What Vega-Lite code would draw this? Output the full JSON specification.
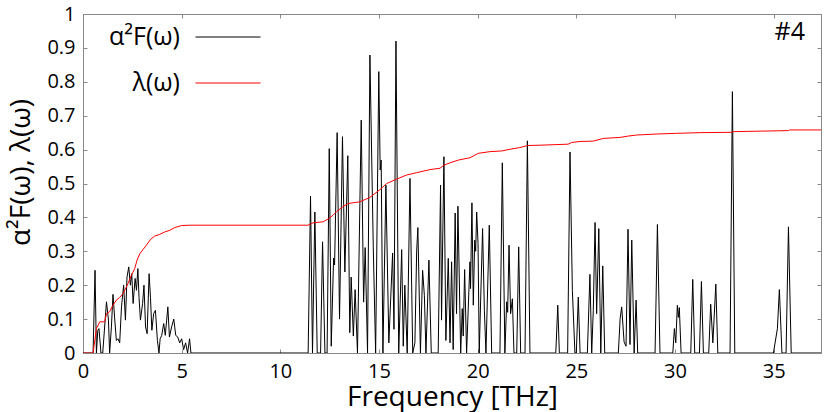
{
 "$schema": "https://vega.github.io/schema/vega-lite/v6.json",
 "width": 738,
 "height": 339,
 "autosize": {"type": "none"},
 "padding": {"left": 83, "top": 14, "right": 9, "bottom": 59},
 "background": "white",
 "config": {
  "view": {"stroke": "#888", "strokeWidth": 1},
  "font": "Open Sans",
  "axis": {"grid": false, "tickSize": -4, "tickColor": "#888", "domainColor": "#888", "labelFont": "Open Sans", "titleFont": "Open Sans", "labelColor": "#000", "titleColor": "#000", "labelFlush": false, "labelOverlap": false, "titleFontWeight": "normal"}
 },
 "datasets": {
  "a2f": [
   {"freq":0,"value":0},{"freq":0.51,"value":0},{"freq":0.61,"value":0.244},{"freq":0.68,"value":0},{"freq":0.75,"value":0.067},{"freq":0.81,"value":0.072},{"freq":0.91,"value":0},{"freq":1.0,"value":0},{"freq":1.19,"value":0.151},{"freq":1.29,"value":0.097},{"freq":1.35,"value":0},{"freq":1.44,"value":0.077},{"freq":1.52,"value":0.173},{"freq":1.6,"value":0.106},{"freq":1.69,"value":0.037},{"freq":1.77,"value":0.042},{"freq":1.86,"value":0.03},{"freq":1.95,"value":0.136},{"freq":2.06,"value":0.2},{"freq":2.15,"value":0.097},{"freq":2.23,"value":0.224},{"freq":2.32,"value":0.254},{"freq":2.4,"value":0.2},{"freq":2.47,"value":0.234},{"freq":2.54,"value":0.146},{"freq":2.64,"value":0.22},{"freq":2.71,"value":0.185},{"freq":2.78,"value":0.249},{"freq":2.84,"value":0.163},{"freq":2.91,"value":0.097},{"freq":3.02,"value":0.146},{"freq":3.09,"value":0.2},{"freq":3.17,"value":0.077},{"freq":3.25,"value":0.057},{"freq":3.35,"value":0.234},{"freq":3.42,"value":0.163},{"freq":3.49,"value":0.067},{"freq":3.58,"value":0.116},{"freq":3.67,"value":0.126},{"freq":3.77,"value":0.037},{"freq":3.85,"value":0},{"freq":3.91,"value":0.042},{"freq":3.99,"value":0.052},{"freq":4.09,"value":0.087},{"freq":4.17,"value":0.052},{"freq":4.24,"value":0.097},{"freq":4.3,"value":0.136},{"freq":4.38,"value":0.047},{"freq":4.49,"value":0.077},{"freq":4.6,"value":0.1},{"freq":4.7,"value":0.052},{"freq":4.8,"value":0.047},{"freq":4.9,"value":0.03},{"freq":5.0,"value":0.042},{"freq":5.1,"value":0.01},{"freq":5.2,"value":0.03},{"freq":5.3,"value":0},{"freq":5.4,"value":0.042},{"freq":5.47,"value":0},
   {"freq":11.41,"value":0},{"freq":11.53,"value":0.463},{"freq":11.63,"value":0},{"freq":11.75,"value":0.416},{"freq":11.87,"value":0},{"freq":12.04,"value":0},{"freq":12.14,"value":0.328},{"freq":12.26,"value":0},{"freq":12.37,"value":0},{"freq":12.48,"value":0.603},{"freq":12.58,"value":0.02},{"freq":12.7,"value":0.28},{"freq":12.75,"value":0.26},{"freq":12.88,"value":0.65},{"freq":13.0,"value":0.1},{"freq":13.15,"value":0.638},{"freq":13.27,"value":0.239},{"freq":13.42,"value":0.582},{"freq":13.52,"value":0.06},{"freq":13.59,"value":0.224},{"freq":13.7,"value":0.05},{"freq":13.79,"value":0.187},{"freq":13.91,"value":0},{"freq":14.1,"value":0.687},{"freq":14.22,"value":0.15},{"freq":14.3,"value":0.311},{"freq":14.42,"value":0},{"freq":14.54,"value":0.879},{"freq":14.71,"value":0.313},{"freq":14.83,"value":0},{"freq":14.99,"value":0.83},{"freq":15.06,"value":0.54},{"freq":15.11,"value":0.569},{"freq":15.2,"value":0},{"freq":15.35,"value":0.495},{"freq":15.5,"value":0.03},{"freq":15.69,"value":0.295},{"freq":15.76,"value":0.07},{"freq":15.86,"value":0.92},{"freq":16.0,"value":0},{"freq":16.15,"value":0.305},{"freq":16.23,"value":0.02},{"freq":16.31,"value":0.2},{"freq":16.43,"value":0},{"freq":16.57,"value":0.515},{"freq":16.71,"value":0},{"freq":16.82,"value":0.03},{"freq":16.91,"value":0.301},{"freq":16.97,"value":0.37},{"freq":17.1,"value":0},{"freq":17.21,"value":0.244},{"freq":17.3,"value":0.17},{"freq":17.38,"value":0},{"freq":17.53,"value":0.274},{"freq":17.65,"value":0},{"freq":18.0,"value":0},{"freq":18.12,"value":0.495},{"freq":18.17,"value":0.097},{"freq":18.29,"value":0.579},{"freq":18.39,"value":0.037},{"freq":18.51,"value":0.279},{"freq":18.6,"value":0.03},{"freq":18.68,"value":0.269},{"freq":18.76,"value":0.01},{"freq":18.86,"value":0.413},{"freq":18.93,"value":0.116},{"freq":19.0,"value":0.433},{"freq":19.14,"value":0},{"freq":19.22,"value":0.131},{"freq":19.27,"value":0.05},{"freq":19.34,"value":0.246},{"freq":19.44,"value":0},{"freq":19.61,"value":0.269},{"freq":19.64,"value":0.19},{"freq":19.71,"value":0.443},{"freq":19.78,"value":0.141},{"freq":19.85,"value":0.333},{"freq":19.9,"value":0.3},{"freq":19.95,"value":0.416},{"freq":20.02,"value":0.323},{"freq":20.08,"value":0},{"freq":20.25,"value":0.367},{"freq":20.34,"value":0.126},{"freq":20.42,"value":0},{"freq":20.59,"value":0.377},{"freq":20.71,"value":0},{"freq":21.13,"value":0},{"freq":21.25,"value":0.561},{"freq":21.38,"value":0},{"freq":21.47,"value":0.151},{"freq":21.52,"value":0.12},{"freq":21.59,"value":0.318},{"freq":21.67,"value":0.116},{"freq":21.76,"value":0.16},{"freq":21.84,"value":0},{"freq":21.98,"value":0},{"freq":22.08,"value":0.313},{"freq":22.18,"value":0},{"freq":22.4,"value":0},{"freq":22.52,"value":0.626},{"freq":22.65,"value":0},{"freq":23.96,"value":0},{"freq":24.06,"value":0.141},{"freq":24.14,"value":0},{"freq":24.56,"value":0},{"freq":24.68,"value":0.593},{"freq":24.8,"value":0.185},{"freq":24.93,"value":0},{"freq":25.0,"value":0},{"freq":25.1,"value":0.165},{"freq":25.19,"value":0},{"freq":25.56,"value":0},{"freq":25.69,"value":0.232},{"freq":25.78,"value":0},{"freq":25.86,"value":0.126},{"freq":25.95,"value":0.385},{"freq":26.03,"value":0.116},{"freq":26.14,"value":0.367},{"freq":26.24,"value":0},{"freq":26.34,"value":0.257},{"freq":26.44,"value":0},{"freq":27.13,"value":0},{"freq":27.22,"value":0.101},{"freq":27.3,"value":0.136},{"freq":27.42,"value":0.033},{"freq":27.52,"value":0.02},{"freq":27.62,"value":0.365},{"freq":27.72,"value":0.025},{"freq":27.81,"value":0.333},{"freq":27.93,"value":0},{"freq":28.03,"value":0.156},{"freq":28.11,"value":0},{"freq":28.99,"value":0},{"freq":29.11,"value":0.379},{"freq":29.24,"value":0},{"freq":29.89,"value":0},{"freq":29.97,"value":0.072},{"freq":30.04,"value":0.03},{"freq":30.12,"value":0.141},{"freq":30.17,"value":0.105},{"freq":30.22,"value":0.134},{"freq":30.31,"value":0},{"freq":30.8,"value":0},{"freq":30.9,"value":0.217},{"freq":31.0,"value":0},{"freq":31.24,"value":0},{"freq":31.34,"value":0.211},{"freq":31.44,"value":0},{"freq":31.71,"value":0},{"freq":31.81,"value":0.144},{"freq":31.92,"value":0.03},{"freq":32.07,"value":0.203},{"freq":32.17,"value":0},{"freq":32.79,"value":0},{"freq":32.91,"value":0.771},{"freq":33.03,"value":0},{"freq":34.99,"value":0},{"freq":35.19,"value":0.072},{"freq":35.29,"value":0.187},{"freq":35.42,"value":0},{"freq":35.63,"value":0},{"freq":35.75,"value":0.372},{"freq":35.89,"value":0},{"freq":37.4,"value":0}
  ],
  "lam": [
   {"freq":0,"value":0},{"freq":0.51,"value":0},{"freq":0.68,"value":0.072},{"freq":0.85,"value":0.092},{"freq":1.1,"value":0.092},{"freq":1.19,"value":0.116},{"freq":1.35,"value":0.122},{"freq":1.52,"value":0.141},{"freq":1.69,"value":0.156},{"freq":1.86,"value":0.164},{"freq":2.03,"value":0.175},{"freq":2.2,"value":0.195},{"freq":2.28,"value":0.205},{"freq":2.45,"value":0.229},{"freq":2.62,"value":0.249},{"freq":2.74,"value":0.274},{"freq":2.88,"value":0.293},{"freq":3.04,"value":0.305},{"freq":3.25,"value":0.321},{"freq":3.42,"value":0.335},{"freq":3.64,"value":0.345},{"freq":3.89,"value":0.35},{"freq":4.14,"value":0.357},{"freq":4.4,"value":0.362},{"freq":4.65,"value":0.37},{"freq":4.99,"value":0.376},{"freq":5.41,"value":0.377},{"freq":11.4,"value":0.377},{"freq":11.53,"value":0.38},{"freq":11.66,"value":0.384},{"freq":12.17,"value":0.387},{"freq":12.47,"value":0.397},{"freq":12.68,"value":0.407},{"freq":12.85,"value":0.417},{"freq":13.18,"value":0.432},{"freq":13.44,"value":0.441},{"freq":14.03,"value":0.446},{"freq":14.54,"value":0.459},{"freq":15.05,"value":0.482},{"freq":15.39,"value":0.5},{"freq":15.86,"value":0.512},{"freq":16.4,"value":0.525},{"freq":16.91,"value":0.532},{"freq":17.58,"value":0.541},{"freq":18.09,"value":0.545},{"freq":18.29,"value":0.554},{"freq":18.6,"value":0.561},{"freq":19.02,"value":0.569},{"freq":19.61,"value":0.576},{"freq":20.03,"value":0.589},{"freq":20.62,"value":0.594},{"freq":21.22,"value":0.596},{"freq":21.64,"value":0.601},{"freq":22.14,"value":0.606},{"freq":22.52,"value":0.612},{"freq":23.16,"value":0.613},{"freq":24.59,"value":0.616},{"freq":24.77,"value":0.621},{"freq":25.19,"value":0.624},{"freq":25.86,"value":0.625},{"freq":26.37,"value":0.633},{"freq":27.22,"value":0.636},{"freq":27.64,"value":0.64},{"freq":28.06,"value":0.643},{"freq":29.08,"value":0.646},{"freq":30.09,"value":0.648},{"freq":31.27,"value":0.65},{"freq":32.88,"value":0.651},{"freq":33.0,"value":0.653},{"freq":35.75,"value":0.656},{"freq":35.8,"value":0.658},{"freq":37.4,"value":0.658}
  ],
  "tag": [{"freq": 37.4, "value": 1, "label": "#4"}]
 },
 "layer": [
  {
   "data": {"name": "a2f"},
   "transform": [{"calculate": "'α²F(ω)'", "as": "series"}],
   "mark": {"type": "line", "strokeWidth": 1, "clip": true},
   "encoding": {
    "x": {"field": "freq", "type": "quantitative", "scale": {"domain": [0, 37.4], "nice": false, "zero": false},
          "axis": {"orient": "bottom", "values": [0,5,10,15,20,25,30,35], "title": "Frequency [THz]", "labelFontSize": 20, "labelPadding": 12, "titleFontSize": 28, "titlePadding": 2}},
    "y": {"field": "value", "type": "quantitative", "scale": {"domain": [0, 1], "nice": false},
          "axis": {"orient": "left", "values": [0,0.1,0.2,0.3,0.4,0.5,0.6,0.7,0.8,0.9,1], "format": "~g", "title": "α²F(ω), λ(ω)", "labelFontSize": 20, "labelPadding": 12, "titleFontSize": 28, "titlePadding": 11, "titleY": 158}},
    "color": {"field": "series", "type": "nominal", "scale": {"domain": ["α²F(ω)", "λ(ω)"], "range": ["#000000", "#ff0000"]},
              "legend": {"title": null, "orient": "none", "legendX": 112, "legendY": -10, "symbolType": "stroke", "symbolSize": 4225, "symbolStrokeWidth": 1, "labelAlign": "right", "labelOffset": -81, "labelFontSize": 25, "labelFont": "Open Sans", "labelColor": "#000", "rowPadding": 0, "padding": 0, "labelLimit": 0}}
   }
  },
  {
   "data": {"name": "lam"},
   "transform": [{"calculate": "'λ(ω)'", "as": "series"}],
   "mark": {"type": "line", "strokeWidth": 1, "clip": true},
   "encoding": {
    "x": {"field": "freq", "type": "quantitative", "axis": {"orient": "top", "values": [0,5,10,15,20,25,30,35], "labels": false, "title": null, "domain": false}},
    "y": {"field": "value", "type": "quantitative", "axis": {"orient": "right", "values": [0,0.1,0.2,0.3,0.4,0.5,0.6,0.7,0.8,0.9,1], "labels": false, "title": null, "domain": false}},
    "color": {"field": "series", "type": "nominal"}
   }
  },
  {
   "data": {"name": "tag"},
   "mark": {"type": "text", "align": "right", "baseline": "top", "dx": -16, "dy": 6, "fontSize": 25, "font": "Open Sans", "color": "#000"},
   "encoding": {
    "x": {"field": "freq", "type": "quantitative", "axis": null},
    "y": {"field": "value", "type": "quantitative", "axis": null},
    "text": {"field": "label"}
   }
  }
 ],
 "resolve": {"axis": {"x": "independent", "y": "independent"}}
}
